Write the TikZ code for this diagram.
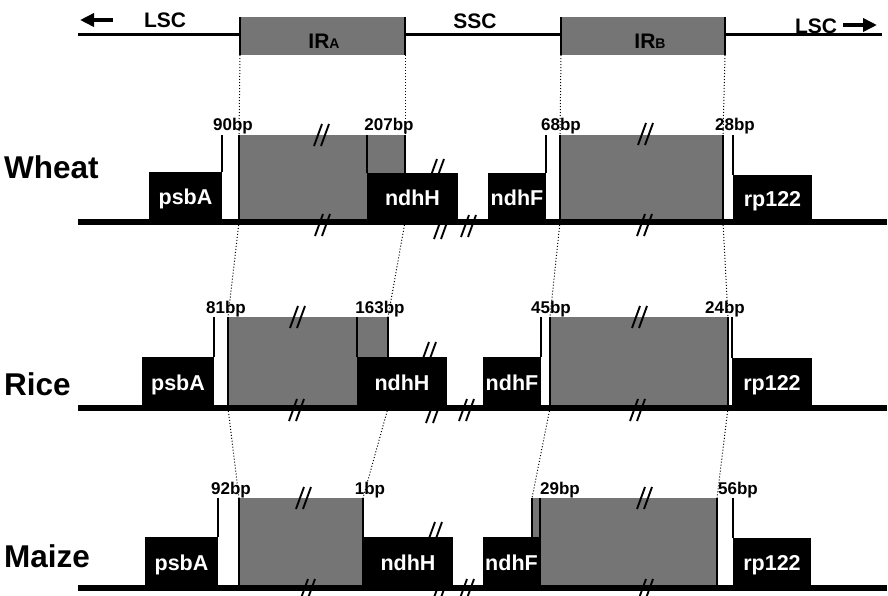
\documentclass[tikz,border=0pt]{standalone}
\usepackage{fontspec}
\setmainfont{Liberation Sans}
\usetikzlibrary{arrows.meta}
\definecolor{irgray}{gray}{0.46}

\begin{document}
\begin{tikzpicture}[x=1pt, y=-1pt,
      gene/.style={fill=black, text=white, anchor=south west, inner sep=0pt,
        outer sep=0pt, font=\fontsize{21.5}{21.5}\selectfont\bfseries,
        text height=15pt, text depth=0pt},
      irbox/.style={fill=irgray, anchor=north west, inner sep=0pt, outer sep=0pt},
      edge/.style={line width=2.6pt},
      tick/.style={line width=1.2pt},
      chrom/.style={line width=5.5pt},
      link/.style={dotted, line width=1pt},
      bplab/.style={anchor=base, inner sep=0pt,
        font=\fontsize{17}{17}\selectfont\bfseries},
      species/.style={anchor=base west, inner sep=0pt,
        font=\fontsize{31.5}{31.5}\selectfont\bfseries},
      region/.style={anchor=base, inner sep=0pt,
        font=\fontsize{21}{21}\selectfont\bfseries},
      lscarrow/.style={-{Triangle[length=14pt,width=13pt]}, line width=4pt},
      brk/.pic={\draw[line width=1.9pt] (-8,11) -- (0,-11) (-1,11) -- (7,-11);}
    ]
      \fill[white] (0,0) rectangle (888,595);
      \useasboundingbox (0,0) rectangle (888,595);

      % junctions on the chromosome
      \draw[line width=3pt] (78,34) -- (882,34);
      \node[irbox, minimum width=165pt, minimum height=38pt] (tIRa) at (240,17) {};
      \node[irbox, minimum width=164pt, minimum height=38pt] (tIRb) at (561,17) {};
      \draw[edge] (tIRa.north west) -- (tIRa.south west);
      \draw[edge] (tIRa.north east) -- (tIRa.south east);
      \draw[edge] (tIRb.north west) -- (tIRb.south west);
      \draw[edge] (tIRb.north east) -- (tIRb.south east);
      \node[region] (iralab) at (324,48) {IR{\fontsize{14}{14}\selectfont A}};
      \node[region] (irblab) at (650,48) {IR{\fontsize{14}{14}\selectfont B}};
      \node[region] (lscl) at (165,27) {LSC};
      \node[region] (ssc) at (475,28) {SSC};
      \node[region] (lscr) at (816,33) {LSC};
      \coordinate (lscltail) at (113,20);
      \coordinate (lscltip) at (80,20);
      \coordinate (lscrtail) at (843,25);
      \coordinate (lscrtip) at (877,25);
      \draw[lscarrow] (lscltail) -- (lscltip);
      \draw[lscarrow] (lscrtail) -- (lscrtip);

      % wheat
      \node[irbox, minimum width=166pt, minimum height=87pt] (wIRa) at (239,135) {};
      \node[irbox, minimum width=163pt, minimum height=87pt] (wIRb) at (560,135) {};
      \node[gene, minimum width=73pt, minimum height=50pt] (wpsbA) at (149,222) {psbA};
      \node[gene, minimum width=91pt, minimum height=49pt] (wndhH) at (367,222) {ndhH};
      \node[gene, minimum width=58pt, minimum height=49pt] (wndhF) at (488,222) {ndhF};
      \node[gene, minimum width=79pt, minimum height=47pt] (wrpl) at (733,222) {rp122};
      \draw[chrom] (78,222) -- (887,222);
      \draw[tick] (wpsbA.north east) -- (wpsbA.north east |- wIRa.north);
      \draw[tick] (wndhH.north west) -- (wndhH.north west |- wIRa.north);
      \draw[tick] (wndhF.north east) -- (wndhF.north east |- wIRb.north);
      \draw[tick] (wrpl.north west) -- (wrpl.north west |- wIRb.north);
      \draw[edge] (wIRa.north west) -- (wIRa.south west);
      \draw[edge] (wIRa.north east) -- (wIRa.north east |- wndhH.north);
      \draw[edge] (wIRb.north west) -- (wIRb.south west);
      \draw[edge] (wIRb.north east) -- (wIRb.south east);
      \node[species] (wheat) at (4,178) {Wheat};
      \node[bplab] (w90) at (233,130) {90bp};
      \node[bplab] (w207) at (389,130) {207bp};
      \node[bplab] (w68) at (561,130) {68bp};
      \node[bplab] (w28) at (735,130) {28bp};
      \pic at (322,135) {brk};
      \pic at (323,225) {brk};
      \pic at (437,170) {brk};
      \pic at (442,228) {brk};
      \pic at (469,226) {brk};
      \pic at (646,134) {brk};
      \pic at (645,225) {brk};

      % rice
      \node[irbox, minimum width=160pt, minimum height=91pt] (rIRa) at (228,317) {};
      \node[irbox, minimum width=178pt, minimum height=91pt] (rIRb) at (550,317) {};
      \node[gene, minimum width=72pt, minimum height=51pt] (rpsbA) at (142,408) {psbA};
      \node[gene, minimum width=90pt, minimum height=51pt] (rndhH) at (357,408) {ndhH};
      \node[gene, minimum width=58pt, minimum height=51pt] (rndhF) at (483,408) {ndhF};
      \node[gene, minimum width=80pt, minimum height=50pt] (rrpl) at (732,408) {rp122};
      \draw[chrom] (78,408) -- (887,408);
      \draw[tick] (rpsbA.north east) -- (rpsbA.north east |- rIRa.north);
      \draw[tick] (rndhH.north west) -- (rndhH.north west |- rIRa.north);
      \draw[tick] (rndhF.north east) -- (rndhF.north east |- rIRb.north);
      \draw[tick] (rrpl.north west) -- (rrpl.north west |- rIRb.north);
      \draw[edge] (rIRa.north west) -- (rIRa.south west);
      \draw[edge] (rIRa.north east) -- (rIRa.north east |- rndhH.north);
      \draw[edge] (rIRb.north west) -- (rIRb.south west);
      \draw[edge] (rIRb.north east) -- (rIRb.south east);
      \node[species] (rice) at (4,395) {Rice};
      \node[bplab] (r81) at (226,313) {81bp};
      \node[bplab] (r163) at (380,313) {163bp};
      \node[bplab] (r45) at (551,313) {45bp};
      \node[bplab] (r24) at (725,313) {24bp};
      \pic at (298,317) {brk};
      \pic at (297,410) {brk};
      \pic at (429,353) {brk};
      \pic at (434,412) {brk};
      \pic at (467,410) {brk};
      \pic at (640,317) {brk};
      \pic at (638,410) {brk};

      % maize
      \node[irbox, minimum width=124pt, minimum height=90pt] (mIRa) at (239,498) {};
      \node[irbox, minimum width=185pt, minimum height=90pt] (mIRb) at (532,498) {};
      \node[gene, minimum width=73pt, minimum height=51pt] (mpsbA) at (145,588) {psbA};
      \node[gene, minimum width=90pt, minimum height=51pt] (mndhH) at (363,588) {ndhH};
      \node[gene, minimum width=57pt, minimum height=51pt] (mndhF) at (483,588) {ndhF};
      \node[gene, minimum width=78pt, minimum height=50pt] (mrpl) at (733,588) {rp122};
      \draw[chrom] (78,588) -- (887,588);
      \draw[tick] (mpsbA.north east) -- (mpsbA.north east |- mIRa.north);
      \draw[tick] (mIRb.north west) -- (mIRb.north west |- mndhF.north);
      \draw[tick] (mrpl.north west) -- (mrpl.north west |- mIRb.north);
      \draw[edge] (mIRa.north west) -- (mIRa.south west);
      \draw[edge] (mIRa.north east) -- (mIRa.south east);
      \draw[edge] (mndhF.north east |- mIRb.north) -- (mndhF.south east);
      \draw[edge] (mIRb.north east) -- (mIRb.south east);
      \node[species] (maize) at (4,567) {Maize};
      \node[bplab] (m92) at (231,494) {92bp};
      \node[bplab] (m1) at (370,494) {1bp};
      \node[bplab] (m29) at (560,494) {29bp};
      \node[bplab] (m56) at (738,494) {56bp};
      \pic at (304,498) {brk};
      \pic at (308,590) {brk};
      \pic at (435,533) {brk};
      \pic at (440,592) {brk};
      \pic at (467,590) {brk};
      \pic at (645,498) {brk};
      \pic at (646,590) {brk};

      % dotted junction links
      \draw[link] (tIRa.south west) -- (wIRa.north west);
      \draw[link] (tIRa.south east) -- (wIRa.north east);
      \draw[link] (tIRb.south west) -- (wIRb.north west);
      \draw[link] (tIRb.south east) -- (wIRb.north east);
      \draw[link] (wIRa.south west) -- (rIRa.north west);
      \draw[link] (wIRa.south east) -- (rIRa.north east);
      \draw[link] (wIRb.south west) -- (rIRb.north west);
      \draw[link] (wIRb.south east) -- (rIRb.north east);
      \draw[link] (rIRa.south west) -- (mIRa.north west);
      \draw[link] (rIRa.south east) -- (mIRa.north east);
      \draw[link] (rIRb.south west) -- (mIRb.north west);
      \draw[link] (rIRb.south east) -- (mIRb.north east);
    \end{tikzpicture}
\end{document}
